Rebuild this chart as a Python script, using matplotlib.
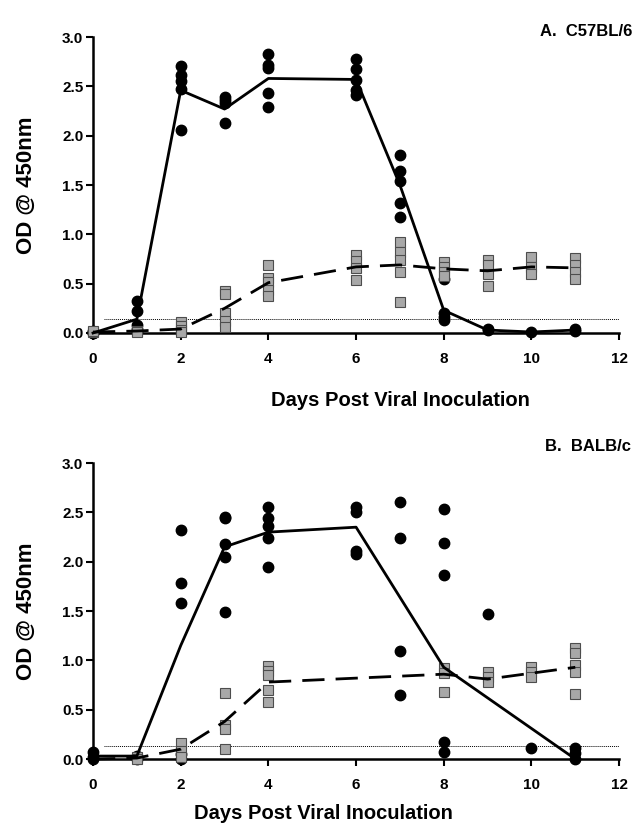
import numpy as np
import matplotlib
matplotlib.use("Agg")
import matplotlib.pyplot as plt

plt.rcParams["font.family"] = ["Liberation Sans", "DejaVu Sans"]
plt.rcParams["font.weight"] = "bold"

# ---- Panel A: C57BL/6 ----
a_circ_days = [0, 0, 0, 0,
               1, 1, 1, 1, 1,
               2, 2, 2, 2, 2,
               3, 3, 3, 3,
               4, 4, 4, 4, 4,
               6, 6, 6, 6, 6,
               7, 7, 7, 7, 7,
               8, 8, 8, 8,
               9, 9, 10, 11, 11]
a_circ_od = [0.0, 0.01, 0.02, 0.0,
             0.32, 0.22, 0.08, 0.04, 0.02,
             2.71, 2.61, 2.55, 2.47, 2.06,
             2.39, 2.36, 2.33, 2.13,
             2.83, 2.72, 2.69, 2.43, 2.29,
             2.78, 2.68, 2.56, 2.46, 2.41,
             1.80, 1.64, 1.54, 1.32, 1.18,
             0.55, 0.20, 0.16, 0.13,
             0.04, 0.03, 0.01, 0.04, 0.02]
a_sq_days = [0, 0, 1, 1,
             2, 2, 2, 2,
             3, 3, 3, 3, 3,
             4, 4, 4, 4, 4,
             6, 6, 6, 6,
             7, 7, 7, 7, 7,
             8, 8, 8, 8,
             9, 9, 9, 9,
             10, 10, 10,
             11, 11, 11, 11]
a_sq_od = [0.01, 0.02, 0.02, 0.01,
           0.11, 0.07, 0.03, 0.01,
           0.43, 0.40, 0.20, 0.12, 0.06,
           0.69, 0.56, 0.52, 0.44, 0.37,
           0.79, 0.73, 0.66, 0.54,
           0.92, 0.82, 0.74, 0.62, 0.31,
           0.72, 0.67, 0.62, 0.58,
           0.74, 0.69, 0.60, 0.48,
           0.77, 0.67, 0.60,
           0.76, 0.69, 0.62, 0.55]
a_line_days = [0, 1, 2, 3, 4, 6, 7, 8, 9, 10, 11]
a_circ_mean = [0.0, 0.14, 2.46, 2.27, 2.58, 2.57, 1.50, 0.23, 0.03, 0.01, 0.03]
a_sq_mean = [0.01, 0.02, 0.04, 0.25, 0.51, 0.67, 0.69, 0.65, 0.63, 0.67, 0.66]
a_cutoff = 0.14

# ---- Panel B: BALB/c ----
b_circ_days = [0, 0, 0,
               1, 1,
               2, 2, 2, 2, 2,
               3, 3, 3, 3, 3,
               4, 4, 4, 4, 4,
               6, 6, 6, 6,
               7, 7, 7, 7,
               8, 8, 8, 8, 8,
               9, 10, 11, 11, 11]
b_circ_od = [0.07, 0.02, 0.0,
             0.03, 0.0,
             2.32, 1.78, 1.58, 0.05, 0.0,
             2.45, 2.44, 2.18, 2.05, 1.49,
             2.55, 2.44, 2.36, 2.24, 1.95,
             2.55, 2.50, 2.11, 2.08,
             2.61, 2.24, 1.10, 0.65,
             2.53, 2.19, 1.87, 0.17, 0.07,
             1.47, 0.11, 0.11, 0.06, 0.0]
b_sq_days = [1, 1,
             2, 2, 2,
             3, 3, 3, 3,
             4, 4, 4, 4, 4,
             8, 8, 8,
             9, 9, 9,
             10, 10, 10,
             11, 11, 11, 11, 11]
b_sq_od = [0.02, 0.0,
           0.16, 0.08, 0.02,
           0.67, 0.35, 0.30, 0.10,
           0.94, 0.89, 0.85, 0.70, 0.58,
           0.92, 0.87, 0.68,
           0.88, 0.83, 0.78,
           0.93, 0.88, 0.83,
           1.13, 1.07, 0.95, 0.88, 0.66]
b_circ_line_days = [0, 1, 2, 3, 4, 6, 8, 11]
b_circ_mean = [0.03, 0.03, 1.15, 2.15, 2.30, 2.35, 0.93, 0.0]
b_sq_line_days = [0, 1, 2, 3, 4, 8, 9, 10, 11]
b_sq_mean = [0.0, 0.01, 0.10, 0.38, 0.78, 0.86, 0.81, 0.87, 0.93]
b_cutoff = 0.13

x_ticks = [0, 2, 4, 6, 8, 10, 12]
y_ticks = [0.0, 0.5, 1.0, 1.5, 2.0, 2.5, 3.0]

fig = plt.figure(figsize=(6.35, 8.3), dpi=100)
ax_a = fig.add_axes([0.1465, 0.5988, 0.8285, 0.3566])
ax_b = fig.add_axes([0.1465, 0.0855, 0.8285, 0.3566])


def draw_panel(ax, cd, co, sd, so, cld, clm, sld, slm, cutoff):
    ax.plot(cd, co, "o", color="black", ms=7.5, mec="black", clip_on=False, zorder=3)
    ax.plot(sd, so, "s", color="#a8a8a8", ms=7, mec="#4d4d4d", mew=0.8,
            clip_on=False, zorder=4)
    ax.plot(cld, clm, "-", color="black", lw=2, clip_on=False, zorder=5)
    ax.plot(sld, slm, color="black", lw=2, dashes=(8, 4), clip_on=False, zorder=5)
    ax.axhline(cutoff, xmin=0.02, xmax=1.0, color="black", lw=0.7, ls=(0, (1, 1)), zorder=2)
    ax.set_xlim(0, 12)
    ax.set_ylim(0, 3.0)
    ax.set_xticks(x_ticks)
    ax.set_yticks(y_ticks)
    ax.set_yticklabels([f"{v:.1f}" for v in y_ticks])
    for s in ["top", "right"]:
        ax.spines[s].set_visible(False)
    for s in ["left", "bottom"]:
        ax.spines[s].set_linewidth(1.8)
    ax.tick_params(direction="out", length=5, width=1.5, labelsize=11)
    ax.tick_params(axis="x", pad=9)
    ax.tick_params(axis="y", pad=2)
    for lab in ax.get_xticklabels() + ax.get_yticklabels():
        lab.set_fontweight("bold")


draw_panel(ax_a, a_circ_days, a_circ_od, a_sq_days, a_sq_od,
           a_line_days, a_circ_mean, a_line_days, a_sq_mean, a_cutoff)
draw_panel(ax_b, b_circ_days, b_circ_od, b_sq_days, b_sq_od,
           b_circ_line_days, b_circ_mean, b_sq_line_days, b_sq_mean, b_cutoff)

# y labels centred on each panel
for ax in (ax_a, ax_b):
    pos = ax.get_position()
    fig.text(0.041, pos.y0 + pos.height / 2, "OD @ 450nm", rotation=90,
             ha="center", va="center", fontsize=16, fontweight="bold")

fig.text(0.996, 0.962, "A.  C57BL/6", ha="right", va="center", fontsize=12, fontweight="bold")
fig.text(0.993, 0.462, "B.  BALB/c", ha="right", va="center", fontsize=12, fontweight="bold")
fig.text(0.63, 0.517, "Days Post Viral Inoculation", ha="center", va="center",
         fontsize=14.5, fontweight="bold")
fig.text(0.51, 0.02, "Days Post Viral Inoculation", ha="center", va="center",
         fontsize=14.5, fontweight="bold")

fig.savefig("out.png", dpi=100)
